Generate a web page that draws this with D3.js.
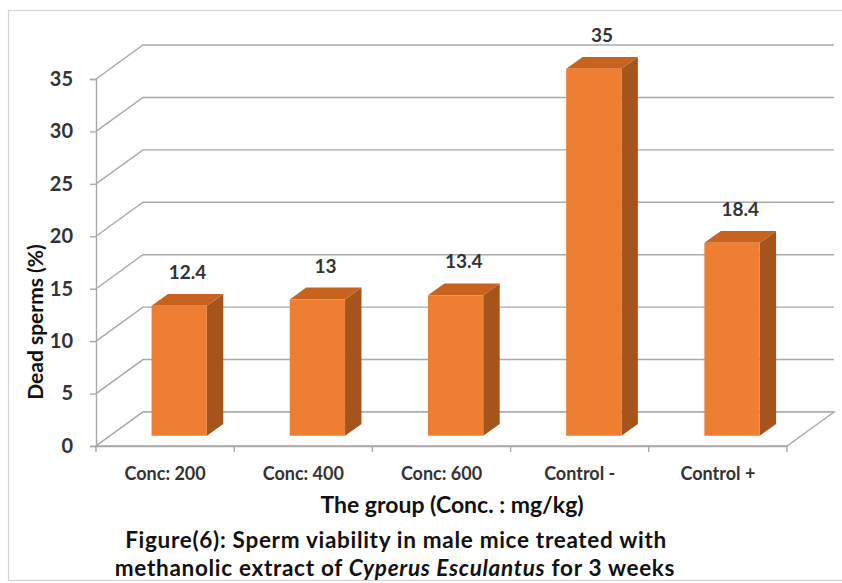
<!DOCTYPE html>
<html>
<head>
<meta charset="utf-8">
<script src="https://cdn.jsdelivr.net/npm/d3@7/dist/d3.min.js"></script>
<style>
  html, body { margin: 0; padding: 0; background: #fff; }
  svg { display: block; }
  text { font-family: Lato, "Open Sans", sans-serif; font-weight: bold; }
</style>
</head>
<body>
<svg id="chart" width="842" height="583"></svg>
<script>
// Dead sperm percentage per treatment group
const categories = ["Conc: 200", "Conc: 400", "Conc: 600", "Control -", "Control +"];
const deadSperms = [12.4, 13, 13.4, 35, 18.4];
const yTicks = [0, 5, 10, 15, 20, 25, 30, 35];

const svg = d3.select("#chart");

// outer frame
svg.append("rect")
  .attr("x", 8.5).attr("y", 10.5)
  .attr("width", 845).attr("height", 570)
  .attr("fill", "#fff").attr("stroke", "#d4d4d4").attr("stroke-width", 1.2);

// front plane scales
const x = d3.scaleBand().domain(categories).range([96, 787]).paddingInner(0).paddingOuter(0);
const y = d3.scaleLinear().domain([0, 35]).range([446, 79]);

// oblique depth projection: z = 0 front, z = 1 back wall
const DEPTH_X = 47, DEPTH_Y = -34;
const proj = (px, v, z) => [px + z * DEPTH_X, y(v) + z * DEPTH_Y];
const line = d3.line();

const gridColor = "#a9a9a9";
const g = svg.append("g");

// side-wall and back-wall gridlines
g.selectAll("path.grid")
  .data(yTicks)
  .join("path")
  .attr("class", "grid")
  .attr("d", v => line([proj(96, v, 0), proj(96, v, 1), proj(787, v, 1)]))
  .attr("fill", "none")
  .attr("stroke", gridColor)
  .attr("stroke-width", 1.4);

// floor
g.append("path")
  .attr("d", line([proj(96, 0, 0), proj(787, 0, 0), proj(787, 0, 1), proj(96, 0, 1)]) + "Z")
  .attr("fill", "#fff")
  .attr("stroke", gridColor)
  .attr("stroke-width", 1.4);

// value axis
const yAxis = g.append("g")
  .attr("transform", "translate(96,0)")
  .call(d3.axisLeft(y).tickValues(yTicks).tickSize(6).tickPadding(17).tickFormat(d3.format("d")));
yAxis.select(".domain").attr("stroke", gridColor).attr("stroke-width", 1.4);
yAxis.selectAll(".tick line").attr("stroke", gridColor).attr("stroke-width", 1.4);
yAxis.selectAll(".tick text")
  .attr("font-size", 20).attr("fill", "#333")
  .attr("font-family", "Lato, sans-serif").attr("font-weight", "bold");

// category axis: labels under band centres, ticks at band edges
const xAxis = g.append("g")
  .attr("transform", "translate(0,446)")
  .call(d3.axisBottom(x).tickSize(0).tickPadding(21));
xAxis.select(".domain").attr("stroke", gridColor).attr("stroke-width", 1.4);
xAxis.selectAll(".tick text")
  .attr("font-size", 18).attr("fill", "#333")
  .attr("font-family", "Lato, sans-serif").attr("font-weight", "bold");

const edges = categories.map(c => x(c)).concat([x(categories[categories.length - 1]) + x.bandwidth()]);
g.selectAll("line.xtick")
  .data(edges)
  .join("line")
  .attr("class", "xtick")
  .attr("x1", d => d).attr("x2", d => d)
  .attr("y1", 446).attr("y2", 452)
  .attr("stroke", gridColor).attr("stroke-width", 1.4);

// 3D bars
const BAR_FRAC = 0.4, Z_FRONT = 0.3, Z_BACK = 0.65;
const bars = g.selectAll("g.bar")
  .data(categories.map((c, i) => ({ c, v: deadSperms[i] })))
  .join("g")
  .attr("class", "bar");

const bx0 = d => x(d.c) + x.bandwidth() * (1 - BAR_FRAC) / 2;
const bx1 = d => bx0(d) + x.bandwidth() * BAR_FRAC;

// side face
bars.append("path")
  .attr("d", d => line([proj(bx1(d), d.v, Z_FRONT), proj(bx1(d), d.v, Z_BACK),
                        proj(bx1(d), 0, Z_BACK), proj(bx1(d), 0, Z_FRONT)]) + "Z")
  .attr("fill", "#a5541c");
// top face
bars.append("path")
  .attr("d", d => line([proj(bx0(d), d.v, Z_FRONT), proj(bx1(d), d.v, Z_FRONT),
                        proj(bx1(d), d.v, Z_BACK), proj(bx0(d), d.v, Z_BACK)]) + "Z")
  .attr("fill", "#c8631f");
// front face
bars.append("path")
  .attr("d", d => line([proj(bx0(d), d.v, Z_FRONT), proj(bx1(d), d.v, Z_FRONT),
                        proj(bx1(d), 0, Z_FRONT), proj(bx0(d), 0, Z_FRONT)]) + "Z")
  .attr("fill", "#ee7f32");

// value labels above each bar
bars.append("text")
  .attr("x", d => proj((bx0(d) + bx1(d)) / 2, d.v, (Z_FRONT + Z_BACK) / 2)[0])
  .attr("y", d => proj((bx0(d) + bx1(d)) / 2, d.v, (Z_FRONT + Z_BACK) / 2)[1] - 21)
  .attr("text-anchor", "middle")
  .attr("font-size", 19)
  .attr("fill", "#333")
  .text(d => d.v);

// axis titles
svg.append("text")
  .attr("transform", "translate(43,322) rotate(-90)")
  .attr("text-anchor", "middle")
  .attr("font-size", 21)
  .attr("fill", "#111")
  .text("Dead sperms (%)");

svg.append("text")
  .attr("x", 452).attr("y", 513)
  .attr("text-anchor", "middle")
  .attr("font-size", 23)
  .attr("fill", "#111")
  .text("The group (Conc. : mg/kg)");

// figure caption, two lines
const cap = svg.append("text")
  .attr("text-anchor", "middle")
  .attr("font-size", 22.5)
  .attr("letter-spacing", 0.7)
  .attr("fill", "#111");
cap.append("tspan").attr("x", 396).attr("y", 548)
  .text("Figure(6): Sperm viability in male mice treated with");
const cap2 = cap.append("tspan").attr("x", 395).attr("y", 576);
cap2.append("tspan").text("methanolic extract of ");
cap2.append("tspan").attr("font-style", "italic").text("Cyperus Esculantus");
cap2.append("tspan").text(" for 3 weeks");
</script>
</body>
</html>
